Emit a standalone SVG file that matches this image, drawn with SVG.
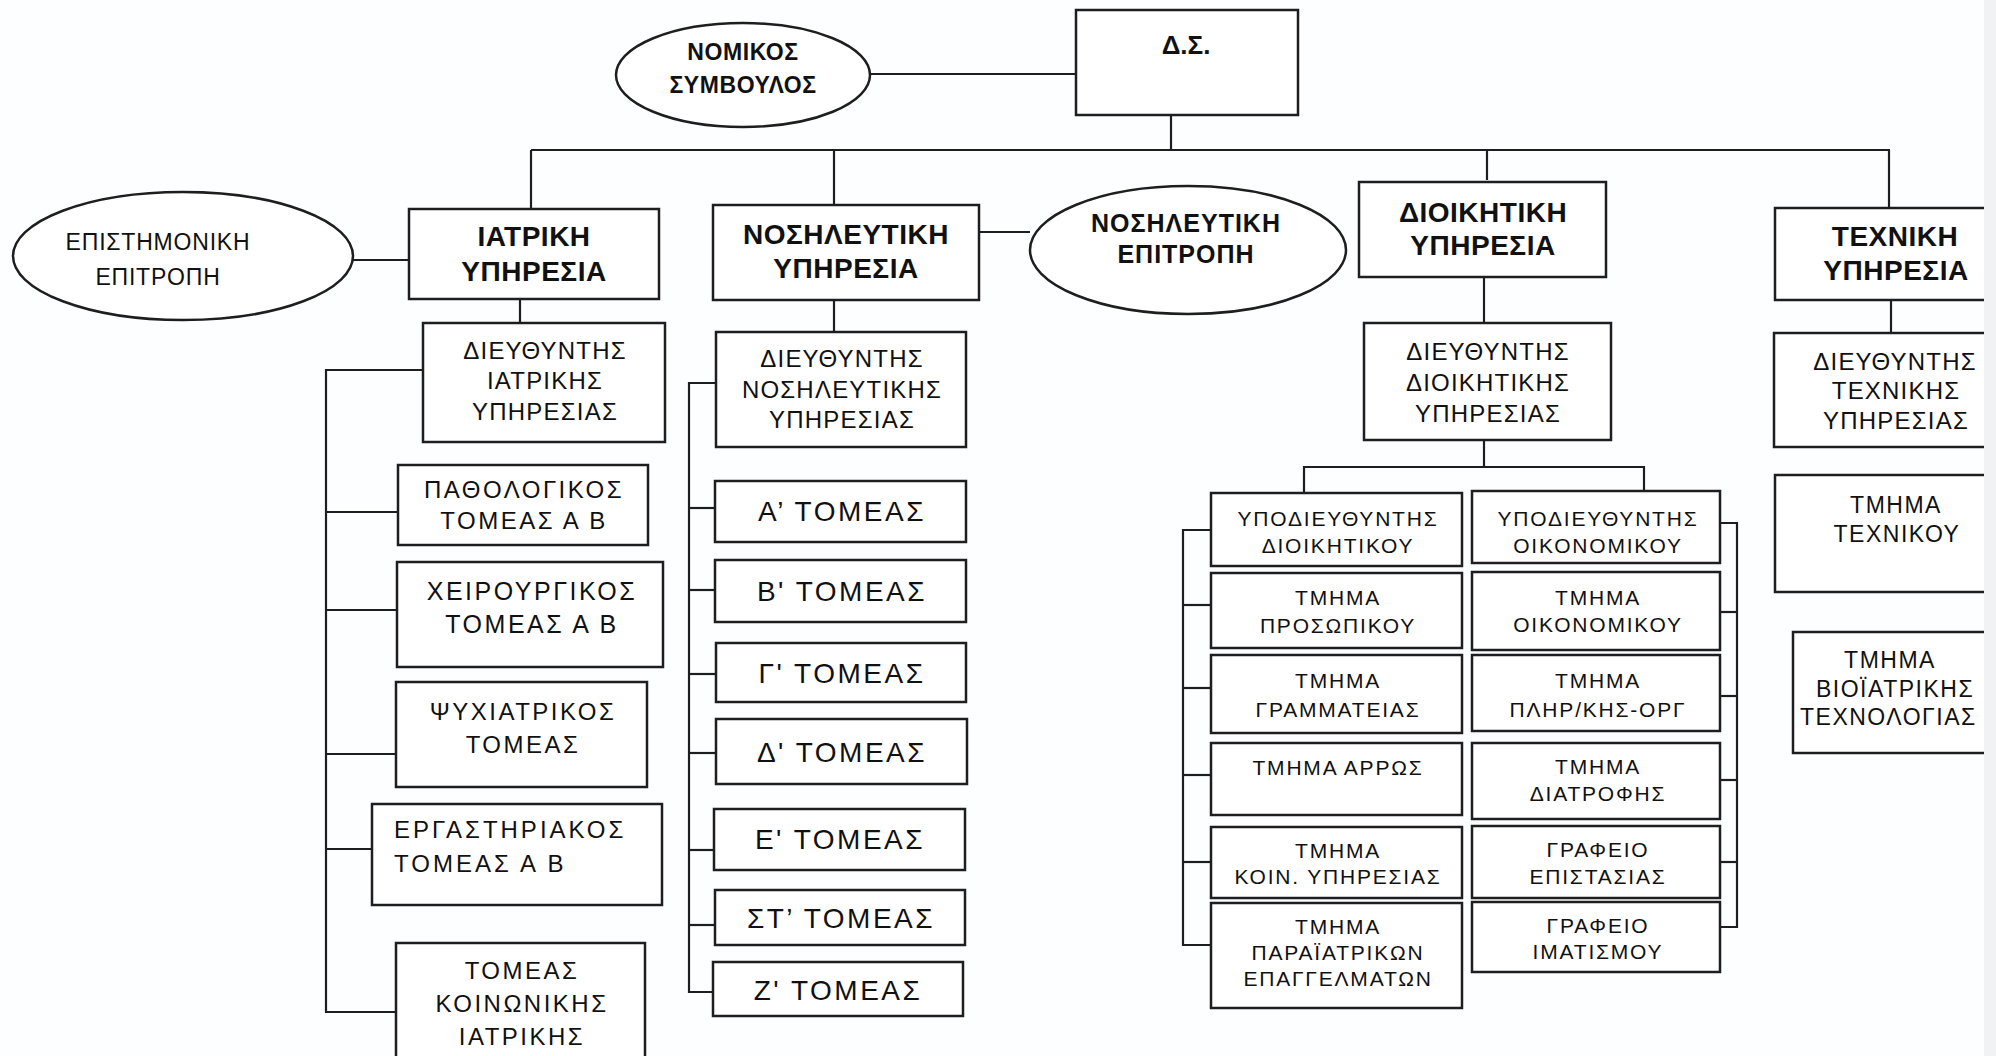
<svg xmlns="http://www.w3.org/2000/svg" width="1996" height="1056" viewBox="0 0 1996 1056">
<style>
.bg{fill:#fdfeff}
.box{fill:#ffffff;stroke:#1e1e1e;stroke-width:2.5}
.ln{stroke:#1e1e1e;stroke-width:2.2;fill:none}
text{font-family:"Liberation Sans",Arial,sans-serif;fill:#111;text-anchor:middle}
.h{font-size:28px;font-weight:bold;letter-spacing:0.5px}
.hn{font-size:23px;font-weight:bold;letter-spacing:0.6px}
.he{font-size:25px;font-weight:bold;letter-spacing:1px}
.ds{font-size:26px;font-weight:bold}
.epi{font-size:23px;letter-spacing:0.8px}
.dir{font-size:24px;letter-spacing:1.2px}
.med{font-size:24px;letter-spacing:2.5px}
.nur{font-size:28px;letter-spacing:2.5px}
.adm{font-size:21px;letter-spacing:1.8px}
.tec{font-size:23px;letter-spacing:1.5px}
.st{text-anchor:start}
</style>
<rect class="bg" x="0" y="0" width="1996" height="1056"/>

<g id="connectors">
  <line class="ln" x1="870" y1="74" x2="1076" y2="74"/>
  <line class="ln" x1="1171" y1="115" x2="1171" y2="150"/>
  <line class="ln" x1="531" y1="150" x2="1890" y2="150"/>
  <line class="ln" x1="531" y1="150" x2="531" y2="209"/>
  <line class="ln" x1="834" y1="150" x2="834" y2="205"/>
  <line class="ln" x1="1487" y1="150" x2="1487" y2="180"/>
  <line class="ln" x1="1889" y1="150" x2="1889" y2="208"/>
  <line class="ln" x1="353" y1="260" x2="409" y2="260"/>
  <line class="ln" x1="979" y1="232" x2="1030" y2="232"/>
  <line class="ln" x1="520" y1="299" x2="520" y2="323"/>
  <line class="ln" x1="834" y1="300" x2="834" y2="332"/>
  <line class="ln" x1="1484" y1="277" x2="1484" y2="323"/>
  <line class="ln" x1="1891" y1="300" x2="1891" y2="333"/>
  <!-- medical bracket -->
  <polyline class="ln" points="423,370 326,370 326,1012 396,1012"/>
  <line class="ln" x1="326" y1="512" x2="398" y2="512"/>
  <line class="ln" x1="326" y1="610" x2="397" y2="610"/>
  <line class="ln" x1="326" y1="754" x2="396" y2="754"/>
  <line class="ln" x1="326" y1="849" x2="372" y2="849"/>
  <!-- nursing bracket -->
  <polyline class="ln" points="716,383 689,383 689,992 714,992"/>
  <line class="ln" x1="689" y1="508" x2="715" y2="508"/>
  <line class="ln" x1="689" y1="590" x2="715" y2="590"/>
  <line class="ln" x1="689" y1="674" x2="715" y2="674"/>
  <line class="ln" x1="689" y1="753" x2="715" y2="753"/>
  <line class="ln" x1="689" y1="850" x2="715" y2="850"/>
  <line class="ln" x1="689" y1="925" x2="715" y2="925"/>
  <!-- admin -->
  <line class="ln" x1="1484" y1="440" x2="1484" y2="467"/>
  <polyline class="ln" points="1304,493 1304,467 1644,467 1644,491"/>
  <polyline class="ln" points="1211,530 1183,530 1183,945 1211,945"/>
  <line class="ln" x1="1183" y1="605" x2="1211" y2="605"/>
  <line class="ln" x1="1183" y1="688" x2="1211" y2="688"/>
  <line class="ln" x1="1183" y1="775" x2="1211" y2="775"/>
  <line class="ln" x1="1183" y1="862" x2="1211" y2="862"/>
  <polyline class="ln" points="1720,523 1737,523 1737,927 1720,927"/>
  <line class="ln" x1="1720" y1="612" x2="1737" y2="612"/>
  <line class="ln" x1="1720" y1="696" x2="1737" y2="696"/>
  <line class="ln" x1="1720" y1="780" x2="1737" y2="780"/>
  <line class="ln" x1="1720" y1="862" x2="1737" y2="862"/>
</g>

<g id="nomikos">
  <ellipse class="box" cx="743" cy="75" rx="127" ry="52"/>
  <text class="hn" x="743" y="60">ΝΟΜΙΚΟΣ</text>
  <text class="hn" x="743" y="93">ΣΥΜΒΟΥΛΟΣ</text>
</g>
<g id="ds">
  <rect class="box" x="1076" y="10" width="222" height="105"/>
  <text class="ds" x="1186" y="54">Δ.Σ.</text>
</g>

<g id="epistimoniki">
  <ellipse class="box" cx="183" cy="256" rx="170" ry="64"/>
  <text class="epi" x="158" y="250">ΕΠΙΣΤΗΜΟΝΙΚΗ</text>
  <text class="epi" x="158" y="285">ΕΠΙΤΡΟΠΗ</text>
</g>
<g id="iatriki">
  <rect class="box" x="409" y="209" width="250" height="90"/>
  <text class="h" x="534" y="246">ΙΑΤΡΙΚΗ</text>
  <text class="h" x="534" y="281">ΥΠΗΡΕΣΙΑ</text>
</g>
<g id="nosileftiki">
  <rect class="box" x="713" y="205" width="266" height="95"/>
  <text class="h" x="846" y="244">ΝΟΣΗΛΕΥΤΙΚΗ</text>
  <text class="h" x="846" y="278">ΥΠΗΡΕΣΙΑ</text>
</g>
<g id="nosileftiki-epitropi">
  <ellipse class="box" cx="1188" cy="250" rx="158" ry="64"/>
  <text class="he" x="1186" y="232">ΝΟΣΗΛΕΥΤΙΚΗ</text>
  <text class="he" x="1186" y="263">ΕΠΙΤΡΟΠΗ</text>
</g>
<g id="dioikitiki">
  <rect class="box" x="1359" y="182" width="247" height="95"/>
  <text class="h" x="1483" y="222">ΔΙΟΙΚΗΤΙΚΗ</text>
  <text class="h" x="1483" y="255">ΥΠΗΡΕΣΙΑ</text>
</g>
<g id="texniki">
  <rect class="box" x="1775" y="208" width="260" height="92"/>
  <text class="h" x="1895" y="246">ΤΕΧΝΙΚΗ</text>
  <text class="h" x="1896" y="280">ΥΠΗΡΕΣΙΑ</text>
</g>

<g id="dir-iatr">
  <rect class="box" x="423" y="323" width="242" height="119"/>
  <text class="dir" x="545" y="359">ΔΙΕΥΘΥΝΤΗΣ</text>
  <text class="dir" x="545" y="389">ΙΑΤΡΙΚΗΣ</text>
  <text class="dir" x="545" y="420">ΥΠΗΡΕΣΙΑΣ</text>
</g>
<g id="dir-nos">
  <rect class="box" x="716" y="332" width="250" height="115"/>
  <text class="dir" x="842" y="367">ΔΙΕΥΘΥΝΤΗΣ</text>
  <text class="dir" x="842" y="398">ΝΟΣΗΛΕΥΤΙΚΗΣ</text>
  <text class="dir" x="842" y="428">ΥΠΗΡΕΣΙΑΣ</text>
</g>
<g id="dir-dioik">
  <rect class="box" x="1364" y="323" width="247" height="117"/>
  <text class="dir" x="1488" y="360">ΔΙΕΥΘΥΝΤΗΣ</text>
  <text class="dir" x="1488" y="391">ΔΙΟΙΚΗΤΙΚΗΣ</text>
  <text class="dir" x="1488" y="422">ΥΠΗΡΕΣΙΑΣ</text>
</g>
<g id="dir-tech">
  <rect class="box" x="1774" y="333" width="260" height="114"/>
  <text class="dir" x="1895" y="370">ΔΙΕΥΘΥΝΤΗΣ</text>
  <text class="dir" x="1896" y="399">ΤΕΧΝΙΚΗΣ</text>
  <text class="dir" x="1896" y="429">ΥΠΗΡΕΣΙΑΣ</text>
</g>

<g id="pathologikos">
  <rect class="box" x="398" y="465" width="250" height="80"/>
  <text class="med" x="524" y="498">ΠΑΘΟΛΟΓΙΚΟΣ</text>
  <text class="med" x="524" y="529">ΤΟΜΕΑΣ Α Β</text>
</g>
<g id="xeirourgikos">
  <rect class="box" x="397" y="562" width="266" height="105"/>
  <text class="med" x="532" y="600" style="font-size:25px">ΧΕΙΡΟΥΡΓΙΚΟΣ</text>
  <text class="med" x="532" y="633" style="font-size:25px">ΤΟΜΕΑΣ Α Β</text>
</g>
<g id="psyxiatrikos">
  <rect class="box" x="396" y="682" width="251" height="105"/>
  <text class="med" x="523" y="720">ΨΥΧΙΑΤΡΙΚΟΣ</text>
  <text class="med" x="523" y="753">ΤΟΜΕΑΣ</text>
</g>
<g id="ergastiriakos">
  <rect class="box" x="372" y="804" width="290" height="101"/>
  <text class="med st" x="394" y="838" style="letter-spacing:3px">ΕΡΓΑΣΤΗΡΙΑΚΟΣ</text>
  <text class="med st" x="394" y="872" style="letter-spacing:3px">ΤΟΜΕΑΣ Α Β</text>
</g>
<g id="koinoniki">
  <rect class="box" x="396" y="943" width="249" height="130"/>
  <text class="med" x="522" y="979">ΤΟΜΕΑΣ</text>
  <text class="med" x="522" y="1012">ΚΟΙΝΩΝΙΚΗΣ</text>
  <text class="med" x="522" y="1045">ΙΑΤΡΙΚΗΣ</text>
</g>

<g id="tomeas-a"><rect class="box" x="715" y="481" width="251" height="61"/><text class="nur" x="842" y="521">Α’ ΤΟΜΕΑΣ</text></g>
<g id="tomeas-b"><rect class="box" x="715" y="560" width="251" height="62"/><text class="nur" x="842" y="601">Β' ΤΟΜΕΑΣ</text></g>
<g id="tomeas-g"><rect class="box" x="716" y="643" width="250" height="59"/><text class="nur" x="842" y="683">Γ' ΤΟΜΕΑΣ</text></g>
<g id="tomeas-d"><rect class="box" x="716" y="719" width="251" height="65"/><text class="nur" x="842" y="762">Δ' ΤΟΜΕΑΣ</text></g>
<g id="tomeas-e"><rect class="box" x="714" y="809" width="251" height="61"/><text class="nur" x="840" y="849">Ε' ΤΟΜΕΑΣ</text></g>
<g id="tomeas-st"><rect class="box" x="715" y="890" width="250" height="55"/><text class="nur" x="841" y="928">ΣΤ’ ΤΟΜΕΑΣ</text></g>
<g id="tomeas-z"><rect class="box" x="713" y="962" width="250" height="54"/><text class="nur" x="838" y="1000">Ζ' ΤΟΜΕΑΣ</text></g>

<g id="ypodieuth-dioik"><rect class="box" x="1211" y="493" width="251" height="73"/><text class="adm" x="1338" y="526">ΥΠΟΔΙΕΥΘΥΝΤΗΣ</text><text class="adm" x="1338" y="553">ΔΙΟΙΚΗΤΙΚΟΥ</text></g>
<g id="prosopikou"><rect class="box" x="1211" y="573" width="251" height="75"/><text class="adm" x="1338" y="605">ΤΜΗΜΑ</text><text class="adm" x="1338" y="633">ΠΡΟΣΩΠΙΚΟΥ</text></g>
<g id="grammateias"><rect class="box" x="1211" y="655" width="251" height="78"/><text class="adm" x="1338" y="688">ΤΜΗΜΑ</text><text class="adm" x="1338" y="717">ΓΡΑΜΜΑΤΕΙΑΣ</text></g>
<g id="arros"><rect class="box" x="1211" y="743" width="251" height="72"/><text class="adm" x="1338" y="775">ΤΜΗΜΑ ΑΡΡΩΣ</text></g>
<g id="koin-ypiresias"><rect class="box" x="1211" y="827" width="251" height="71"/><text class="adm" x="1338" y="858">ΤΜΗΜΑ</text><text class="adm" x="1338" y="884">ΚΟΙΝ. ΥΠΗΡΕΣΙΑΣ</text></g>
<g id="paraiatrikon"><rect class="box" x="1211" y="903" width="251" height="105"/><text class="adm" x="1338" y="934">ΤΜΗΜΑ</text><text class="adm" x="1338" y="960">ΠΑΡΑΪΑΤΡΙΚΩΝ</text><text class="adm" x="1338" y="986">ΕΠΑΓΓΕΛΜΑΤΩΝ</text></g>

<g id="ypodieuth-oik"><rect class="box" x="1472" y="491" width="248" height="72"/><text class="adm" x="1598" y="526">ΥΠΟΔΙΕΥΘΥΝΤΗΣ</text><text class="adm" x="1598" y="553">ΟΙΚΟΝΟΜΙΚΟΥ</text></g>
<g id="oikonomikou"><rect class="box" x="1472" y="572" width="248" height="78"/><text class="adm" x="1598" y="605">ΤΜΗΜΑ</text><text class="adm" x="1598" y="632">ΟΙΚΟΝΟΜΙΚΟΥ</text></g>
<g id="plirof"><rect class="box" x="1472" y="655" width="248" height="76"/><text class="adm" x="1598" y="688">ΤΜΗΜΑ</text><text class="adm" x="1598" y="717">ΠΛΗΡ/ΚΗΣ-ΟΡΓ</text></g>
<g id="diatrofis"><rect class="box" x="1472" y="743" width="248" height="76"/><text class="adm" x="1598" y="774">ΤΜΗΜΑ</text><text class="adm" x="1598" y="801">ΔΙΑΤΡΟΦΗΣ</text></g>
<g id="epistasias"><rect class="box" x="1472" y="826" width="248" height="72"/><text class="adm" x="1598" y="857">ΓΡΑΦΕΙΟ</text><text class="adm" x="1598" y="884">ΕΠΙΣΤΑΣΙΑΣ</text></g>
<g id="imatismou"><rect class="box" x="1472" y="902" width="248" height="70"/><text class="adm" x="1598" y="933">ΓΡΑΦΕΙΟ</text><text class="adm" x="1598" y="959">ΙΜΑΤΙΣΜΟΥ</text></g>

<g id="texnikou"><rect class="box" x="1775" y="475" width="260" height="117"/><text class="tec" x="1896" y="513">ΤΜΗΜΑ</text><text class="tec" x="1897" y="542">ΤΕΧΝΙΚΟΥ</text></g>
<g id="bioiatrikis"><rect class="box" x="1793" y="632" width="250" height="121"/><text class="tec" x="1890" y="668">ΤΜΗΜΑ</text><text class="tec st" x="1816" y="697">ΒΙΟΪΑΤΡΙΚΗΣ</text><text class="tec st" x="1800" y="725">ΤΕΧΝΟΛΟΓΙΑΣ</text></g>

<rect x="1984" y="0" width="12" height="1056" fill="#f0f2f4"/>
</svg>
